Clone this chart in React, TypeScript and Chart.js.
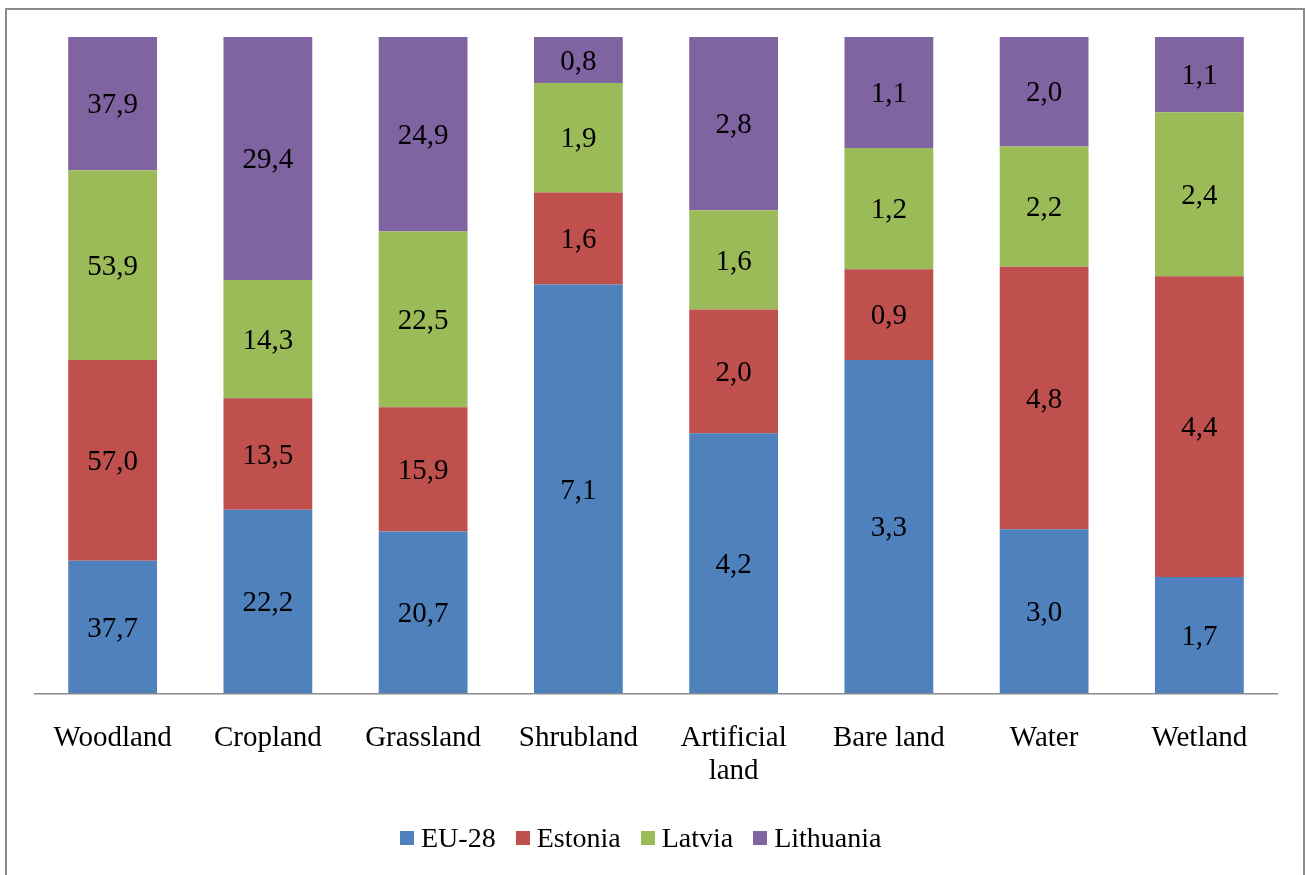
import React, { useEffect, useRef } from "react";
import { Chart, registerables } from "chart.js";

Chart.register(...registerables);

const categories: (string | string[])[] = [
  "Woodland",
  "Cropland",
  "Grassland",
  "Shrubland",
  ["Artificial", "land"],
  "Bare land",
  "Water",
  "Wetland",
];

const seriesNames = ["EU-28", "Estonia", "Latvia", "Lithuania"];
const seriesColors = ["#4F81BD", "#C0504D", "#9BBB59", "#8064A2"];

const eu28 = [37.7, 22.2, 20.7, 7.1, 4.2, 3.3, 3.0, 1.7];
const estonia = [57.0, 13.5, 15.9, 1.6, 2.0, 0.9, 4.8, 4.4];
const latvia = [53.9, 14.3, 22.5, 1.9, 1.6, 1.2, 2.2, 2.4];
const lithuania = [37.9, 29.4, 24.9, 0.8, 2.8, 1.1, 2.0, 1.1];

const seriesValues = [eu28, estonia, latvia, lithuania];

const FONT = "'Liberation Serif', 'Times New Roman', serif";

export default function App() {
  const canvasRef = useRef<HTMLCanvasElement | null>(null);

  useEffect(() => {
    document.body.style.margin = "0";
    const canvas = canvasRef.current;
    if (!canvas) return;

    const totals = categories.map((_, i) =>
      seriesValues.reduce((s, arr) => s + arr[i], 0)
    );

    const labelPlugin = {
      id: "segLabels",
      afterDatasetsDraw(chart: any) {
        const ctx = chart.ctx;
        ctx.save();
        ctx.font = `29px ${FONT}`;
        ctx.fillStyle = "#000";
        ctx.textAlign = "center";
        ctx.textBaseline = "middle";
        chart.data.datasets.forEach((ds: any, di: number) => {
          const meta = chart.getDatasetMeta(di);
          meta.data.forEach((el: any, i: number) => {
            const raw = seriesValues[di][i];
            const txt = raw.toFixed(1).replace(".", ",");
            const y = (el.y + el.base) / 2;
            ctx.fillText(txt, el.x, y + 2);
          });
        });
        ctx.restore();
      },
    };

    const chart = new Chart(canvas, {
      type: "bar",
      data: {
        labels: categories,
        datasets: seriesValues.map((vals, di) => ({
          label: seriesNames[di],
          data: vals.map((v, i) => (v / totals[i]) * 100),
          backgroundColor: seriesColors[di],
          borderWidth: 0,
          categoryPercentage: 1,
          barPercentage: 0.572,
        })),
      },
      options: {
        responsive: false,
        animation: false,
        layout: {
          padding: { left: 35, right: 29, top: 37, bottom: 59 },
        },
        plugins: {
          legend: { display: false },
          tooltip: { enabled: false },
        },
        scales: {
          x: {
            stacked: true,
            grid: { display: false, drawTicks: false },
            border: { display: true, color: "#8a8a8a", width: 1.5 },
            ticks: {
              color: "#000",
              font: { family: FONT, size: 29, lineHeight: 1.15 },
              padding: 28,
              maxRotation: 0,
              autoSkip: false,
            },
          },
          y: {
            stacked: true,
            display: false,
            min: 0,
            max: 100,
          },
        },
      },
      plugins: [labelPlugin],
    });

    return () => chart.destroy();
  }, []);

  const legendItem = (name: string, color: string) => (
    <div
      key={name}
      style={{ display: "flex", alignItems: "center", marginRight: 20 }}
    >
      <span
        style={{
          display: "inline-block",
          width: 14,
          height: 14,
          background: color,
          marginRight: 7,
        }}
      />
      <span style={{ fontFamily: FONT, fontSize: 28, color: "#000" }}>
        {name}
      </span>
    </div>
  );

  return (
    <div
      style={{
        position: "fixed",
        left: 0,
        top: 0,
        width: 1306,
        height: 875,
        overflow: "hidden",
        background: "#fff",
      }}
    >
      <div
        style={{
          position: "absolute",
          left: 5,
          top: 8,
          width: 1300,
          height: 900,
          border: "2px solid #8c8c8c",
          boxSizing: "border-box",
        }}
      />
      <canvas
        ref={canvasRef}
        width={1306}
        height={875}
        style={{ position: "absolute", left: 0, top: 0 }}
      />
      <div
        style={{
          position: "absolute",
          left: 400,
          top: 820,
          height: 36,
          display: "flex",
          alignItems: "center",
        }}
      >
        {seriesNames.map((n, i) => legendItem(n, seriesColors[i]))}
      </div>
    </div>
  );
}
